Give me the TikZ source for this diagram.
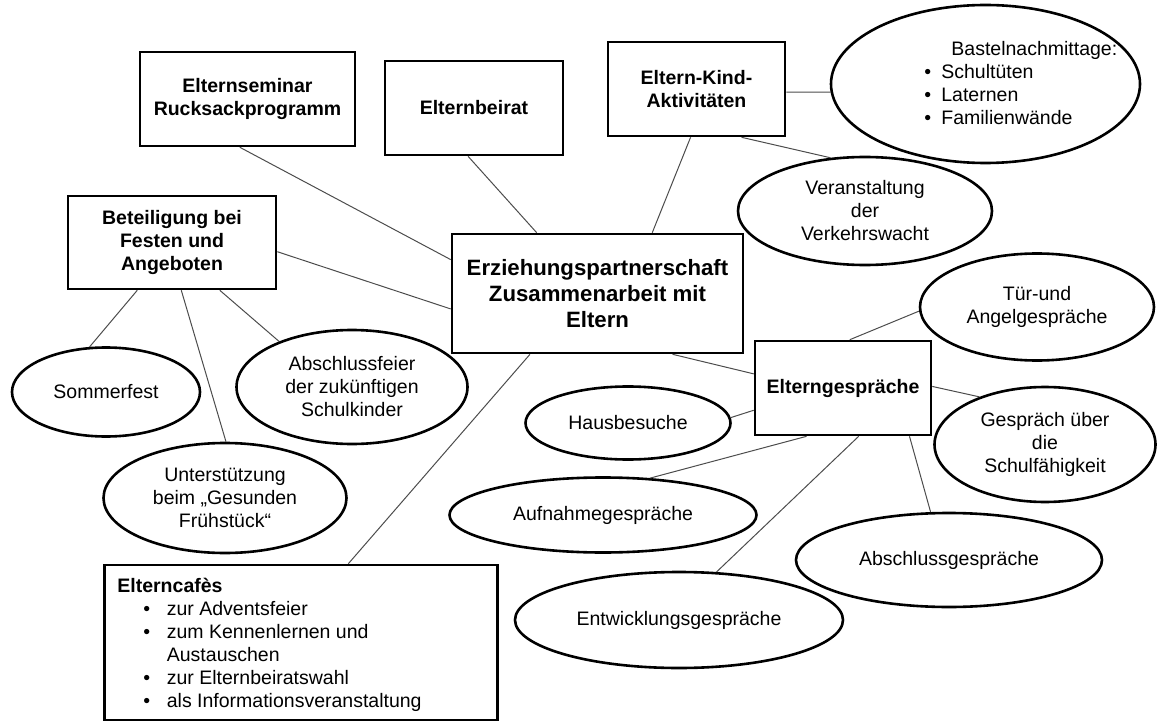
\documentclass[tikz,border=0pt]{standalone}
\usepackage{fontspec}
\setmainfont{Liberation Sans}
\usetikzlibrary{shapes.geometric}
\newcommand{\punkt}[1]{\makebox[#1][l]{\textbullet}}

\begin{document}
\begin{tikzpicture}[x=0.5pt,y=-0.5pt,
box/.style={draw,rectangle,line width=1.3pt,inner sep=0pt,align=center,font=\fontsize{9.75}{11.5}\selectfont\bfseries},
oval/.style={draw,ellipse,line width=1.3pt,inner sep=0pt,align=center,font=\fontsize{9.75}{11.5}\selectfont},
liste/.style={inner sep=0pt,align=left,anchor=west,font=\fontsize{9.75}{11.5}\selectfont},
link/.style={line width=0.5pt,black!70}]
\useasboundingbox (0,0) rectangle (1157,722);

\node[box,minimum width=107.5pt,minimum height=47pt] (sem) at (247.5,99) {Elternseminar\\Rucksackprogramm};
\node[box,minimum width=89pt,minimum height=47pt] (beirat) at (474,108) {Elternbeirat};
\node[box,minimum width=88.5pt,minimum height=47pt] (ekind) at (696.5,89) {Eltern-Kind-\\Aktivitäten};
\node[box,minimum width=104pt,minimum height=46.5pt] (bet) at (172,242.5) {Beteiligung bei\\Festen und\\Angeboten};
\node[box,minimum width=145.5pt,minimum height=59.5pt,font=\fontsize{11.1}{13}\selectfont\bfseries] (ctr) at (597.5,293.5) {Erziehungspartnerschaft\\Zusammenarbeit mit\\Eltern};
\node[box,minimum width=88pt,minimum height=47pt] (gespr) at (843,388) {Elterngespräche};
\node[box,minimum width=196.5pt,minimum height=77.5pt] (cafe) at (301,642.5) {};
\node[liste] (cafetext) at (117,645) {\textbf{Elterncafès}\\
\hspace*{13pt}\punkt{11.75pt}zur Adventsfeier\\
\hspace*{13pt}\punkt{11.75pt}zum Kennenlernen und\\
\hspace*{24.75pt}Austauschen\\
\hspace*{13pt}\punkt{11.75pt}zur Elternbeiratswahl\\
\hspace*{13pt}\punkt{11.75pt}als Informationsveranstaltung};

\node[oval,minimum width=154.5pt,minimum height=79pt] (bastel) at (985.5,84) {};
\node[liste] (basteltext) at (924,83.5) {\hspace*{13.5pt}Bastelnachmittage:\\
\punkt{8.5pt}Schultüten\\
\punkt{8.5pt}Laternen\\
\punkt{8.5pt}Familienwände};
\node[oval,minimum width=127pt,minimum height=54pt] (verk) at (865,211) {Veranstaltung\\der\\Verkehrswacht};
\node[oval,minimum width=117pt,minimum height=53.5pt] (tuer) at (1037,307) {Tür-und\\Angelgespräche};
\node[oval,minimum width=110.5pt,minimum height=57.5pt] (gueber) at (1045,444.5) {Gespräch über\\die\\Schulfähigkeit};
\node[oval,minimum width=153pt,minimum height=47pt] (abschlg) at (949,560) {Abschlussgespräche};
\node[oval,minimum width=164pt,minimum height=48pt] (entw) at (679,620) {Entwicklungsgespräche};
\node[oval,minimum width=153.5pt,minimum height=37.5pt] (aufn) at (603,515) {Aufnahmegespräche};
\node[oval,minimum width=102.5pt,minimum height=36.5pt] (haus) at (628,423) {Hausbesuche};
\node[oval,minimum width=94pt,minimum height=44.5pt] (somm) at (106,392) {Sommerfest};
\node[oval,minimum width=115.5pt,minimum height=57pt] (abfeier) at (352,387) {Abschlussfeier\\der zukünftigen\\Schulkinder};
\node[oval,minimum width=121.5pt,minimum height=55pt] (unter) at (225,498) {Unterstützung\\beim „Gesunden\\Frühstück“};

\foreach \von/\nach in {sem.-99/ctr.167, beirat.-97/ctr.135.5, bet.-5/ctr.186.4,
bet.-126.2/somm.110, bet.-79/unter.89, bet.-45.3/abfeier.148.7,
ctr.-138.6/cafe.59.3, ctr.48.6/ekind.-97.7, ekind.-2.6/bastel.183.3,
ekind.-47.8/verk.123, ctr.-39.4/gespr.171.7, gespr.82.7/tuer.182.4,
gespr.1.3/gueber.144.3, gespr.-36.7/abschlg.111, gespr.-72.3/entw.52.5,
gespr.-127.5/aufn.38.2, gespr.-166.1/haus.3.3}{
\draw[link] (\von) -- (\nach);
}
\end{tikzpicture}
\end{document}
